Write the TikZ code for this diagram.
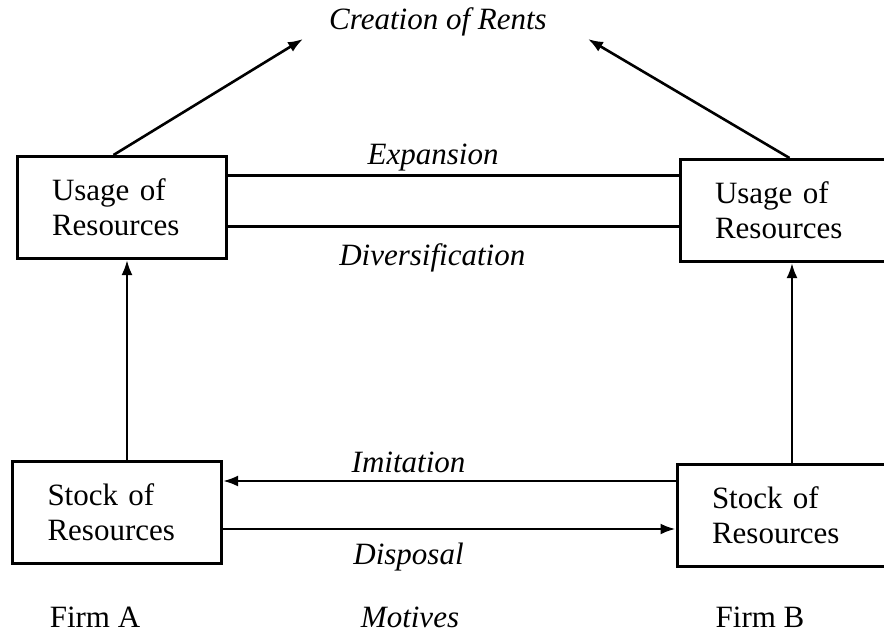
\documentclass[tikz,border=0pt]{standalone}
\usepackage{fontspec}
\setmainfont{Liberation Serif}
\usetikzlibrary{arrows.meta,positioning}

\begin{document}
\begin{tikzpicture}[x=1pt, y=-1pt, >={Latex[length=15pt,width=11pt]}, line width=2.6pt,
   font=\fontsize{31}{35}\selectfont]
   \path[use as bounding box] (0,0) rectangle (884,637);
   \clip (0,0) rectangle (884,637);
   \begin{scope}[every node/.style={rectangle,draw,line width=3pt,minimum width=209pt,
      minimum height=102pt,text width=139pt,inner xsep=35pt,align=left}]
    \node (usageA) at (121.5,207.5) {Usage of\\Resources};
    \node (usageB) at (784.5,210.5) {Usage of\\Resources};
    \node (stockA) at (117,512.5) {Stock of\\Resources};
    \node (stockB) at (781.5,515) {Stock of\\Resources};
   \end{scope}
   \node (rents) at (438,22) {\itshape Creation of Rents};
   \begin{scope}[every node/.style={inner sep=1pt}]
    \node (firmA) at (95,617) {Firm A};
    \node (motives) at (410,617) {\itshape Motives};
    \node (firmB) at (760,617) {Firm B};
   \end{scope}
   \coordinate (rentsL) at (303,39);
   \coordinate (rentsR) at (588,39);
   \begin{scope}[every node/.style={font=\fontsize{31}{35}\selectfont\itshape}]
    \draw[->] ([xshift=-8pt]usageA.north) -- (rentsL);
    \draw[->] ([xshift=5pt]usageB.north) -- (rentsR);
    \draw[->] ([xshift=10pt]stockA.north) -- ([xshift=10pt]stockA.north |- usageA.south);
    \draw[->] ([xshift=10.5pt]stockB.north) -- ([xshift=10.5pt]stockB.north |- usageB.south);
    \draw ([yshift=32pt]usageA.east) -- node[above,pos=0.456]{Expansion} ([yshift=32pt]usageA.east -| usageB.west);
    \draw ([yshift=-19pt]usageA.east) -- node[below=13pt,pos=0.454]{Diversification} ([yshift=-19pt]usageA.east -| usageB.west);
    \draw[->] ([yshift=34pt]stockB.west) -- node[above=4pt,pos=0.59]{Imitation} ([yshift=34pt]stockB.west -| stockA.east);
    \draw[->] ([yshift=-16.5pt]stockA.east) -- node[below=9pt,pos=0.41]{Disposal} ([yshift=-16.5pt]stockA.east -| stockB.west);
   \end{scope}
\end{tikzpicture}
\end{document}
